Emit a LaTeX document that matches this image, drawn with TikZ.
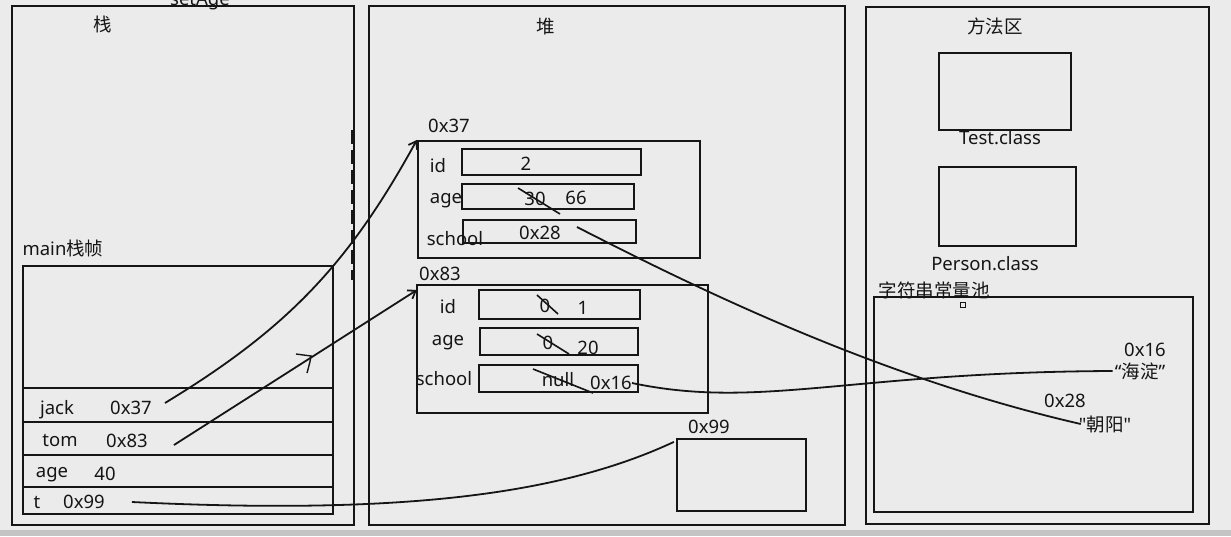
\documentclass[tikz,border=0pt]{standalone}
\usepackage{fontspec}
\setmainfont{Noto Sans}
\newfontfamily\rawfont{Noto Sans}
\newfontfamily\cjk{Noto Sans CJK SC}
\usetikzlibrary{arrows.meta}
\definecolor{board}{HTML}{EBEBEB}
\definecolor{strip}{HTML}{C4C4C4}
\definecolor{ink}{HTML}{151515}
\begin{document}
\begin{tikzpicture}[x=1pt,y=-1pt,
  every node/.style={font=\fontsize{18.5}{22}\selectfont, text=ink},
  box/.style={draw=ink, line width=2.2pt, rectangle, inner sep=0pt},
  lbl/.style={inner sep=0pt},
  wire/.style={draw=ink, line width=1.8pt},
  ptr/.style={wire, -{Straight Barb[length=7pt,width=10pt]}},
  strike/.style={draw=ink, line width=1.6pt}]
\useasboundingbox (0,0) rectangle (1231,536);
\clip (0,0) rectangle (1231,536);
\fill[board] (0,0) rectangle (1231,536);
\fill[strip] (0,530) rectangle (1231,536);

% ---- stack ----
\node[box, minimum width=342pt, minimum height=519pt] (stack) at (183,265.5) {};
\node[lbl] (stackT) at (103,24) {\cjk 栈};
\node[lbl] (setage) at (200,1) {setAge};
\node[lbl] (mainT) at (63,248) {main{\cjk 栈帧}};
\node[box, minimum width=310pt, minimum height=248pt] (frame) at (178,390) {};
\foreach \yy in {388,422,455,487}
  \draw[draw=ink, line width=2.2pt] (frame.west |- 0,\yy) -- (frame.east |- 0,\yy);
\node[lbl] (jackN) at (57,410) {jack};
\node[lbl] (jackv) at (131,408) {0x37};
\node[lbl] (tomN) at (60,440) {tom};
\node[lbl] (tomv) at (127,441) {0x83};
\node[lbl] (ageN) at (52,475) {age};
\node[lbl] (agev) at (105,474) {40};
\node[lbl] (tN) at (37,502) {t};
\node[lbl] (tv) at (84,502) {0x99};

% ---- heap ----
\node[box, minimum width=476pt, minimum height=519pt] (heap) at (607,265.5) {};
\node[lbl] (heapT) at (546,27) {\cjk 堆};

% object at 0x37
\node[lbl] (a37) at (449,126) {0x37};
\node[box, minimum width=282pt, minimum height=117pt] (obj37) at (559,199.5) {};
\node[box, minimum width=179pt, minimum height=26pt] (f37id) at (551.5,162) {};
\node[box, minimum width=172pt, minimum height=25pt] (f37age) at (548,196.5) {};
\node[box, minimum width=173pt, minimum height=23pt] (f37sch) at (549.5,231.5) {};
\node[lbl] at (438,166) {id};
\node[lbl] at (446,201) {age};
\node[lbl] at (455,239) {school};
\node[lbl] at (526,164) {2};
\node[lbl] (old30) at (535,199) {30};
\node[lbl] at (576,198) {66};
\draw[strike] (518,188) -- (560,214);
\node[lbl] (v28) at (540,233) {0x28};

% object at 0x83
\node[lbl] (a83) at (440,274) {0x83};
\node[box, minimum width=291pt, minimum height=128pt] (obj83) at (562.5,349) {};
\node[box, minimum width=161pt, minimum height=29pt] (f83id) at (559.5,304.5) {};
\node[box, minimum width=158pt, minimum height=27pt] (f83age) at (559,341.5) {};
\node[box, minimum width=159pt, minimum height=27pt] (f83sch) at (558.5,378.5) {};
\node[lbl] at (448,307) {id};
\node[lbl] at (448,343) {age};
\node[lbl] at (444,379) {school};
\node[lbl] at (545,306) {0};
\draw[strike] (537,295) -- (558,314);
\node[lbl] at (583,308) {1};
\node[lbl] at (548,343) {0};
\draw[strike] (537,334) -- (569,354);
\node[lbl] at (588,348) {20};
\node[lbl] at (558,380) {null};
\draw[strike] (533,369) -- (593,393);
\node[lbl] (v16) at (611,383) {0x16};

% object at 0x99
\node[lbl] (a99) at (709,427) {0x99};
\node[box, minimum width=129pt, minimum height=72pt] (obj99) at (741.5,475) {};

% ---- method area ----
\node[box, minimum width=343pt, minimum height=517pt] (method) at (1037.5,265.5) {};
\node[lbl] (methodT) at (995,26) {\cjk 方法区};
\node[box, minimum width=132pt, minimum height=77pt] (testC) at (1005,91.5) {};
\node[lbl] (testL) at (1000,138) {Test.class};
\node[box, minimum width=137pt, minimum height=79pt] (personC) at (1007.5,206.5) {};
\node[lbl] (personL) at (985,264) {Person.class};
\node[lbl] (poolT) at (934,290) {\cjk 字符串常量池};
\node[box, minimum width=319pt, minimum height=215pt] (pool) at (1033.5,404.5) {};
\draw[draw=ink, line width=0.8pt] (960,302) rectangle (965,307);
\node[lbl] (s16a) at (1145,350) {0x16};
\node[lbl] (s16) at (1140,371) {“{\cjk 海淀}”};
\node[lbl] (s28a) at (1065,401) {0x28};
\node[lbl] (s28) at (1105,424) {{\rawfont "}{\cjk 朝阳}{\rawfont "}};

% ---- references ----
\draw[ptr] ([xshift=13pt,yshift=5pt]jackv.east) to[bend right=15] (obj37.north west);
\draw[ptr] ([xshift=26pt,yshift=-4pt]tomv.east) -- ([xshift=1pt]obj83.north west |- 0,290);
\draw[wire] ([xshift=27pt]tv.east) .. controls (400,515) and (560,495) .. ([xshift=-2pt,yshift=-4pt]obj99.north west);
\draw[wire] (v16.east) .. controls (760,410) and (850,372) .. ([xshift=-2pt]s16.west);
\draw[wire] ([xshift=16pt,yshift=6pt]v28.east) .. controls (700,290) and (880,378) .. ([xshift=2pt]s28.west);

% leftover pen marks
\draw[wire, line width=1.4pt] (296,354) -- (311,356) .. controls (310,362) .. (307,373);
\draw[draw=ink, line width=1.2pt, dash pattern=on 14pt off 6pt] (352,130) -- (352,280);
\end{tikzpicture}
\end{document}
